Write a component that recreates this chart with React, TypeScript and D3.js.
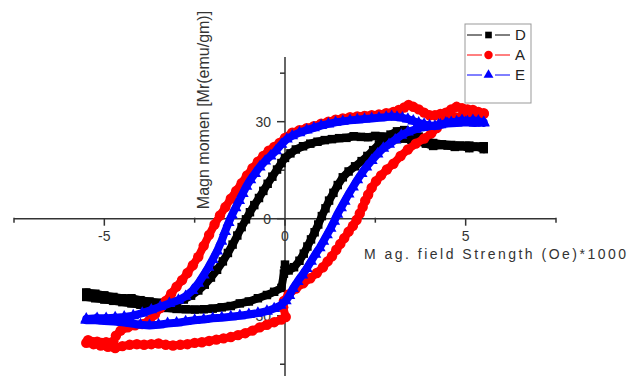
import React from "react";
import * as d3 from "d3";

// field (Oe*1000), moment (emu/gm) pairs
const dDown: [number, number][] = [
  [5.5, 21.5], [5.3, 22.3], [5.1, 21.8], [4.9, 22.4], [4.7, 22.2], [4.5, 22.6], [4.3, 22.8], [4.1, 22.5],
  [3.9, 23.2], [3.7, 23.8], [3.5, 24.4], [3.3, 24.8], [3.1, 24.6], [2.9, 25], [2.7, 25.4], [2.5, 25.6],
  [2.3, 25.2], [2.1, 25.3], [1.9, 25.5], [1.7, 25], [1.5, 24.9], [1.3, 24.6], [1.1, 24.3], [0.9, 23.8],
  [0.7, 23.2], [0.5, 22.4], [0.3, 21.4], [0.15, 20.2], [0, 18.8], [-0.1, 17.2], [-0.22, 15.2], [-0.35, 13],
  [-0.48, 10.8], [-0.6, 8.6], [-0.72, 6.4], [-0.85, 4.2], [-0.97, 2], [-1.08, -0.2], [-1.2, -2.6],
  [-1.32, -5.2], [-1.45, -8], [-1.58, -10.6], [-1.72, -13.2], [-1.88, -15.8], [-2.05, -18.2],
  [-2.22, -20.4], [-2.4, -22.2], [-2.6, -23.8], [-2.8, -25], [-3.0, -25.7], [-3.25, -26], [-3.5, -26],
  [-3.75, -25.6], [-4.0, -25.2], [-4.25, -24.6], [-4.5, -24.6], [-4.75, -24.2], [-5.0, -23.7],
  [-5.25, -23.2], [-5.5, -22.8],
];
const dUp: [number, number][] = [
  [-5.5, -24.2], [-5.25, -24.6], [-5.0, -25], [-4.75, -25.4], [-4.5, -25.8], [-4.25, -26.2], [-4.0, -26.6],
  [-3.75, -27], [-3.5, -27.4], [-3.25, -27.6], [-3.0, -27.9], [-2.75, -28], [-2.5, -28.1], [-2.25, -28],
  [-2.0, -27.8], [-1.75, -27.4], [-1.5, -27], [-1.25, -26.2], [-1.0, -25.6], [-0.75, -24.6], [-0.5, -23.6],
  [-0.3, -22.6], [-0.1, -21.4], [-0.03, -17], [0, -14.2], [0.1, -16], [0.25, -15], [0.4, -13],
  [0.52, -10.8], [0.62, -8.6], [0.72, -6.4], [0.82, -4.2], [0.92, -1.8], [1.02, 0.8], [1.12, 3.2],
  [1.22, 5.6], [1.34, 8], [1.46, 10.4], [1.6, 12.8], [1.76, 14.6], [1.94, 16.2], [2.12, 17.8],
  [2.28, 19.4], [2.44, 21.2], [2.6, 23], [2.76, 24.6], [2.92, 26], [3.1, 27], [3.3, 27.4], [3.5, 26.8],
  [3.7, 25.4], [3.9, 24.2], [4.1, 23.4], [4.35, 23], [4.6, 22.8], [4.85, 22.6], [5.1, 22.6], [5.35, 22.2],
  [5.5, 22.4],
];

const aDown: [number, number][] = [
  [5.5, 32.4], [5.35, 33], [5.2, 33.6], [5.05, 33.8], [4.9, 34.2], [4.75, 34.6], [4.6, 33.8], [4.45, 32.8],
  [4.3, 32.4], [4.15, 32], [4.0, 32], [3.85, 32.8], [3.7, 33.8], [3.55, 34.6], [3.42, 35.2], [3.3, 34.4],
  [3.15, 33.6], [3.0, 33], [2.8, 32.6], [2.6, 32.2], [2.4, 32], [2.2, 31.8], [2.0, 31.6], [1.8, 31.4],
  [1.6, 31], [1.4, 30.6], [1.2, 30], [1.0, 29.4], [0.8, 28.6], [0.6, 28], [0.4, 27.4], [0.2, 26.6],
  [0, 25], [-0.15, 23.4], [-0.3, 22.2], [-0.45, 21], [-0.6, 19.4], [-0.75, 17.6], [-0.9, 15.6],
  [-1.05, 13.4], [-1.2, 11], [-1.35, 8.6], [-1.5, 6.2], [-1.65, 3.6], [-1.8, 1], [-1.95, -1.8],
  [-2.1, -5], [-2.25, -8.4], [-2.4, -11.8], [-2.55, -14.4], [-2.7, -16.8], [-2.85, -19], [-3.0, -21],
  [-3.15, -23.2], [-3.3, -25.4], [-3.45, -27.6], [-3.6, -29.6], [-3.75, -31.4], [-3.95, -32.6],
  [-4.15, -33], [-4.35, -33.6], [-4.55, -34.6], [-4.68, -36.2], [-4.75, -38], [-4.95, -38.2],
  [-5.2, -38], [-5.45, -37.6],
];
const aUp: [number, number][] = [
  [-5.5, -38.4], [-5.3, -38.8], [-5.1, -39.2], [-4.9, -39.6], [-4.7, -40], [-4.5, -39.4], [-4.3, -39],
  [-4.1, -38.8], [-3.9, -39], [-3.7, -38.8], [-3.5, -38.6], [-3.3, -39], [-3.1, -39.2], [-2.9, -39],
  [-2.7, -38.8], [-2.5, -38.4], [-2.3, -38.2], [-2.1, -37.8], [-1.9, -37.4], [-1.7, -37], [-1.5, -36.6],
  [-1.3, -36], [-1.1, -35.4], [-0.9, -34.6], [-0.7, -33.6], [-0.5, -32.8], [-0.3, -32], [-0.1, -31.2],
  [0.02, -30.4], [-0.05, -27.4], [-0.03, -25.4], [0.1, -23.4], [0.3, -21.6], [0.5, -20], [0.7, -18.4],
  [0.88, -16.8], [1.05, -15], [1.18, -13.2], [1.3, -11.6], [1.42, -9.6], [1.53, -7.8], [1.64, -6],
  [1.76, -4], [1.88, -2.2], [1.98, -0.4], [2.07, 1.6], [2.15, 3.6], [2.22, 5.6], [2.3, 7.4], [2.4, 9.6],
  [2.52, 11.6], [2.66, 13.4], [2.82, 15.2], [3.0, 17], [3.2, 19.4], [3.4, 21.4], [3.62, 23.2],
  [3.85, 24.8], [4.05, 26.4], [4.2, 28], [4.35, 29.6], [4.5, 30.6], [4.7, 31.4], [4.9, 31.8], [5.1, 32],
  [5.3, 32.2], [5.5, 32.6],
];

const eDown: [number, number][] = [
  [5.5, 29.6], [5.35, 30.2], [5.2, 30.4], [5.05, 30], [4.9, 30.4], [4.75, 30], [4.6, 29.8], [4.45, 29.6],
  [4.3, 29], [4.15, 28.6], [4.0, 28.8], [3.85, 29.2], [3.7, 29.6], [3.55, 30.2], [3.4, 30.8], [3.25, 31.2],
  [3.1, 31.4], [2.95, 31.6], [2.8, 31.4], [2.6, 31.2], [2.4, 31], [2.2, 30.8], [2.0, 30.6], [1.8, 30.4],
  [1.6, 30.1], [1.4, 29.8], [1.2, 29.3], [1.0, 28.8], [0.8, 28.1], [0.6, 27.4], [0.4, 26.6], [0.2, 25.6],
  [0.05, 24.6], [-0.1, 23], [-0.25, 21], [-0.4, 19.4], [-0.55, 17.8], [-0.7, 16], [-0.83, 14],
  [-0.96, 12], [-1.07, 10], [-1.17, 7.8], [-1.27, 5.6], [-1.37, 3.4], [-1.47, 1.1], [-1.56, -1.2],
  [-1.66, -4], [-1.76, -7], [-1.88, -10], [-2.0, -12.6], [-2.12, -15], [-2.25, -17.4], [-2.4, -20],
  [-2.56, -22.2], [-2.75, -24], [-2.95, -25.2], [-3.2, -26.2], [-3.45, -27.2], [-3.7, -28.2],
  [-3.95, -29.2], [-4.2, -30], [-4.45, -30.4], [-4.7, -30.6], [-4.95, -30.8], [-5.2, -30.8], [-5.5, -31],
];
const eUp: [number, number][] = [
  [-5.5, -31.4], [-5.25, -31.4], [-5.0, -31.6], [-4.75, -31.8], [-4.5, -32], [-4.25, -32.4], [-4.0, -32.8],
  [-3.75, -33], [-3.5, -32.8], [-3.25, -32.4], [-3.0, -32.2], [-2.75, -31.8], [-2.5, -31.4], [-2.25, -31.2],
  [-2.0, -30.8], [-1.75, -30.6], [-1.5, -30.3], [-1.25, -30], [-1.0, -29.6], [-0.75, -29.2], [-0.5, -28.6],
  [-0.3, -27.8], [-0.12, -26.8], [0.02, -25.4], [0.12, -23.8], [0.22, -21.6], [0.35, -19.4], [0.48, -17.4],
  [0.6, -15.4], [0.72, -13.2], [0.84, -11], [0.96, -9], [1.06, -7], [1.16, -5], [1.26, -3], [1.36, -0.8],
  [1.45, 1.4], [1.55, 3.4], [1.65, 5.4], [1.76, 7.6], [1.88, 9.8], [2.0, 12], [2.12, 14], [2.25, 16],
  [2.4, 18], [2.56, 20], [2.72, 21.8], [2.88, 23], [3.05, 24.4], [3.22, 25.8], [3.4, 26.8], [3.6, 27.6],
  [3.8, 28.2], [4.0, 28.6], [4.25, 29], [4.5, 29.4], [4.75, 29.6], [5.0, 29.8], [5.25, 29.6], [5.5, 29.8],
];

const seriesNames = ["D", "A", "E"];
const seriesColors = ["#000000", "#ff0000", "#0000ff"];
const xMajorTicks = [-5, 0, 5];
const xMinorTicks = [-7.5, -2.5, 2.5, 7.5];
const yMajorTicks = [-30, 0, 30];
const yMinorTicks = [-45, -15, 15, 45];

const W = 628;
const H = 376;
const font = "'Liberation Sans', Arial, sans-serif";

export default function App() {
  const x = d3.scaleLinear().domain([-7.5, 7.5]).range([14, 556]);
  const y = d3.scaleLinear().domain([-50, 50]).range([380.4, 57]);
  const x0 = x(0);
  const y0 = y(0);

  const loops = [dDown.concat(dUp), aDown.concat(aUp), eDown.concat(eUp)];
  const symbols = [
    d3.symbol(d3.symbolSquare, 72)(),
    d3.symbol(d3.symbolCircle, 85)(),
    d3.symbol(d3.symbolTriangle, 62)(),
  ];
  const legendSymbols = [
    d3.symbol(d3.symbolSquare, 44)(),
    d3.symbol(d3.symbolCircle, 56)(),
    d3.symbol(d3.symbolTriangle, 42)(),
  ];
  const line = d3
    .line<[number, number]>()
    .x((d) => x(d[0]))
    .y((d) => y(d[1]));

  const axisColor = "#333";
  const textColor = "#333";

  return (
    <svg
      width={W}
      height={H}
      style={{ position: "absolute", left: 0, top: 0, background: "#fff" }}
      fontFamily={font}
    >
      {/* x axis */}
      <line x1={x(-7.5)} x2={x(7.5)} y1={y0} y2={y0} stroke={axisColor} strokeWidth={1.5} />
      {xMajorTicks.map((t) => (
        <g key={"xm" + t}>
          <line x1={x(t)} x2={x(t)} y1={y0} y2={y0 + 7} stroke={axisColor} strokeWidth={1.5} />
          <text x={x(t)} y={241} textAnchor="middle" fontSize={14} fill={textColor}>
            {t}
          </text>
        </g>
      ))}
      {xMinorTicks.map((t) => (
        <line key={"xn" + t} x1={x(t)} x2={x(t)} y1={y0 - 1} y2={y0 + 4} stroke={axisColor} strokeWidth={1.5} />
      ))}

      {/* y axis */}
      <line x1={x0} x2={x0} y1={y(-50)} y2={y(50)} stroke={axisColor} strokeWidth={1.5} />
      {yMajorTicks.map((t) => (
        <g key={"ym" + t}>
          <line x1={x0 - 8} x2={x0} y1={y(t)} y2={y(t)} stroke={axisColor} strokeWidth={1.5} />
          <text x={271} y={y(t)} dy="0.36em" textAnchor="end" fontSize={14} fill={textColor}>
            {t}
          </text>
        </g>
      ))}
      {yMinorTicks.map((t) => (
        <line key={"yn" + t} x1={x0 - 5} x2={x0} y1={y(t)} y2={y(t)} stroke={axisColor} strokeWidth={1.5} />
      ))}

      {/* axis titles */}
      <text
        transform={`translate(209,110) rotate(-90)`}
        textAnchor="middle"
        fontSize={16}
        fill={textColor}
      >
        Magn momen [Mr(emu/gm)]
      </text>
      <text x={364} y={259} fontSize={14} fill={textColor} textLength={262} lengthAdjust="spacing">
        M ag. field Strength (Oe)*1000
      </text>

      {/* loops */}
      {loops.map((pts, i) => (
        <g key={seriesNames[i]}>
          <path
            d={line(pts) || ""}
            fill="none"
            stroke={seriesColors[i]}
            strokeWidth={8}
            strokeLinejoin="round"
            strokeLinecap="round"
          />
          {pts.map((p, j) => (
            <path
              key={j}
              d={symbols[i] || ""}
              transform={`translate(${x(p[0])},${y(p[1])})`}
              fill={seriesColors[i]}
            />
          ))}
        </g>
      ))}

      {/* legend */}
      <rect x={465} y={24} width={66} height={79} fill="#fff" stroke="#999" strokeWidth={1} />
      {seriesNames.map((name, i) => {
        const ly = 35 + i * 20;
        return (
          <g key={"lg" + name}>
            <line x1={467} x2={482} y1={ly} y2={ly} stroke={seriesColors[i]} strokeWidth={1} />
            <line x1={495} x2={510} y1={ly} y2={ly} stroke={seriesColors[i]} strokeWidth={1} />
            <path d={legendSymbols[i] || ""} transform={`translate(488.5,${ly})`} fill={seriesColors[i]} />
            <text x={515} y={ly} dy="0.36em" fontSize={15} fill="#222">
              {name}
            </text>
          </g>
        );
      })}
    </svg>
  );
}
